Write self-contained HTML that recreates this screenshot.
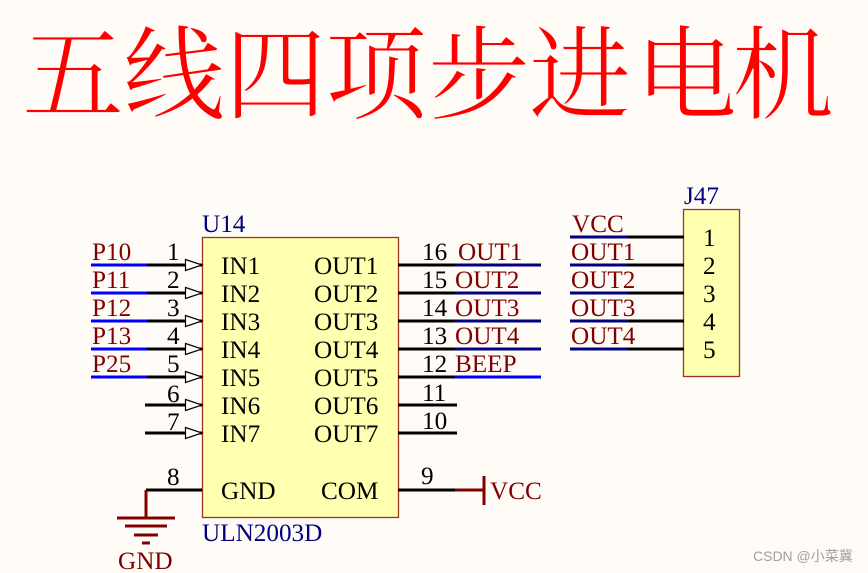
<!DOCTYPE html>
<html><head><meta charset="utf-8"><style>
html,body{margin:0;padding:0;background:#fffcf8}
svg{display:block}
text{font-family:"Liberation Serif","Noto Serif CJK SC",serif;font-size:25.2px;fill:#000}
.n{fill:#800000}.d{fill:#000080}
</style></head><body>
<svg width="868" height="573" viewBox="0 0 868 573" xmlns="http://www.w3.org/2000/svg">
<rect width="868" height="573" fill="#fffcf8"/>
<text x="22 123 224.500 325 428 529 635 732" y="111" style="font-size:102px;fill:#f00;stroke:#fffcf8;stroke-width:0.8px">五线四项步进电机</text>

<rect x="202.5" y="237.5" width="196" height="280" fill="#ffffb0" stroke="#9c3228" stroke-width="1.3"/>
<rect x="683.5" y="209.5" width="56" height="167" fill="#ffffb0" stroke="#9c3228" stroke-width="1.3"/>

<g stroke-width="3" fill="none">
<g stroke="#0000ff"><path d="M91 265H147M91 293H147M91 321H147M91 349H147M91 377H147M455 377H541"/></g>
<g stroke="#000080"><path d="M455 265H541M455 293H541M455 321H541M455 349H541M570 237H628M570 265H628M570 293H628M570 321H628M570 349H628"/></g>
<g stroke="#000"><path d="M147 265H202M147 293H202M147 321H202M147 349H202M147 377H202M145 405H202M145 433H202M146 490H202M398 265H455M398 293H455M398 321H455M398 349H455M398 377H455M398 405H457M398 433H457M398 490H455M628 237H684M628 265H684M628 293H684M628 321H684M628 349H684"/></g>
<g stroke="#800000"><path d="M455 490H484M484 476V505M146 490V518M117 518H175M125 526H167M134 535H158M142 543H150"/></g>
</g>
<g fill="#fff" stroke="#000" stroke-width="1.2">
<path d="M185.500 259.500L202 265L185.500 270.500Z"/><path d="M185.500 287.500L202 293L185.500 298.500Z"/><path d="M185.500 315.500L202 321L185.500 326.500Z"/><path d="M185.500 343.500L202 349L185.500 354.500Z"/><path d="M185.500 371.500L202 377L185.500 382.500Z"/><path d="M185.500 399.500L202 405L185.500 410.500Z"/><path d="M185.500 427.500L202 433L185.500 438.500Z"/>
</g>

<text x="202" y="232" class="d">U14</text>
<text x="202" y="541" class="d">ULN2003D</text>
<text x="684" y="204" class="d">J47</text>

<text x="92" y="260" class="n">P10</text><text x="92" y="288" class="n">P11</text><text x="92" y="316" class="n">P12</text><text x="92" y="344" class="n">P13</text><text x="92" y="372" class="n">P25</text>
<text x="167" y="260">1</text><text x="167" y="288">2</text><text x="167" y="316">3</text><text x="167" y="344">4</text><text x="167" y="372">5</text><text x="167" y="402">6</text><text x="167" y="430">7</text><text x="167" y="485">8</text>
<text x="221" y="274">IN1</text><text x="221" y="302">IN2</text><text x="221" y="330">IN3</text><text x="221" y="358">IN4</text><text x="221" y="386">IN5</text><text x="221" y="414">IN6</text><text x="221" y="442">IN7</text><text x="221" y="499">GND</text>
<text x="314" y="274">OUT1</text><text x="314" y="302">OUT2</text><text x="314" y="330">OUT3</text><text x="314" y="358">OUT4</text><text x="314" y="386">OUT5</text><text x="314" y="414">OUT6</text><text x="314" y="442">OUT7</text><text x="321" y="499">COM</text>
<text x="422" y="260">16</text><text x="422" y="288">15</text><text x="422" y="316">14</text><text x="422" y="344">13</text><text x="422" y="372">12</text><text x="422" y="401">11</text><text x="422" y="429">10</text><text x="421" y="484">9</text>
<text x="458" y="260" class="n">OUT1</text><text x="455" y="288" class="n">OUT2</text><text x="455" y="316" class="n">OUT3</text><text x="455" y="344" class="n">OUT4</text><text x="455" y="372" class="n">BEEP</text>
<text x="490" y="499" class="n">VCC</text>
<text x="118" y="569" class="n">GND</text>
<text x="572" y="232" class="n">VCC</text><text x="571" y="260" class="n">OUT1</text><text x="571" y="288" class="n">OUT2</text><text x="571" y="316" class="n">OUT3</text><text x="571" y="344" class="n">OUT4</text>
<text x="703" y="246">1</text><text x="703" y="274">2</text><text x="703" y="302">3</text><text x="703" y="330">4</text><text x="703" y="358">5</text>
<text x="753" y="561" style="font-family:'Liberation Sans','Noto Sans CJK SC',sans-serif;font-size:14px;fill:#a0a0a0">CSDN @小菜冀</text>
</svg>
</body></html>
